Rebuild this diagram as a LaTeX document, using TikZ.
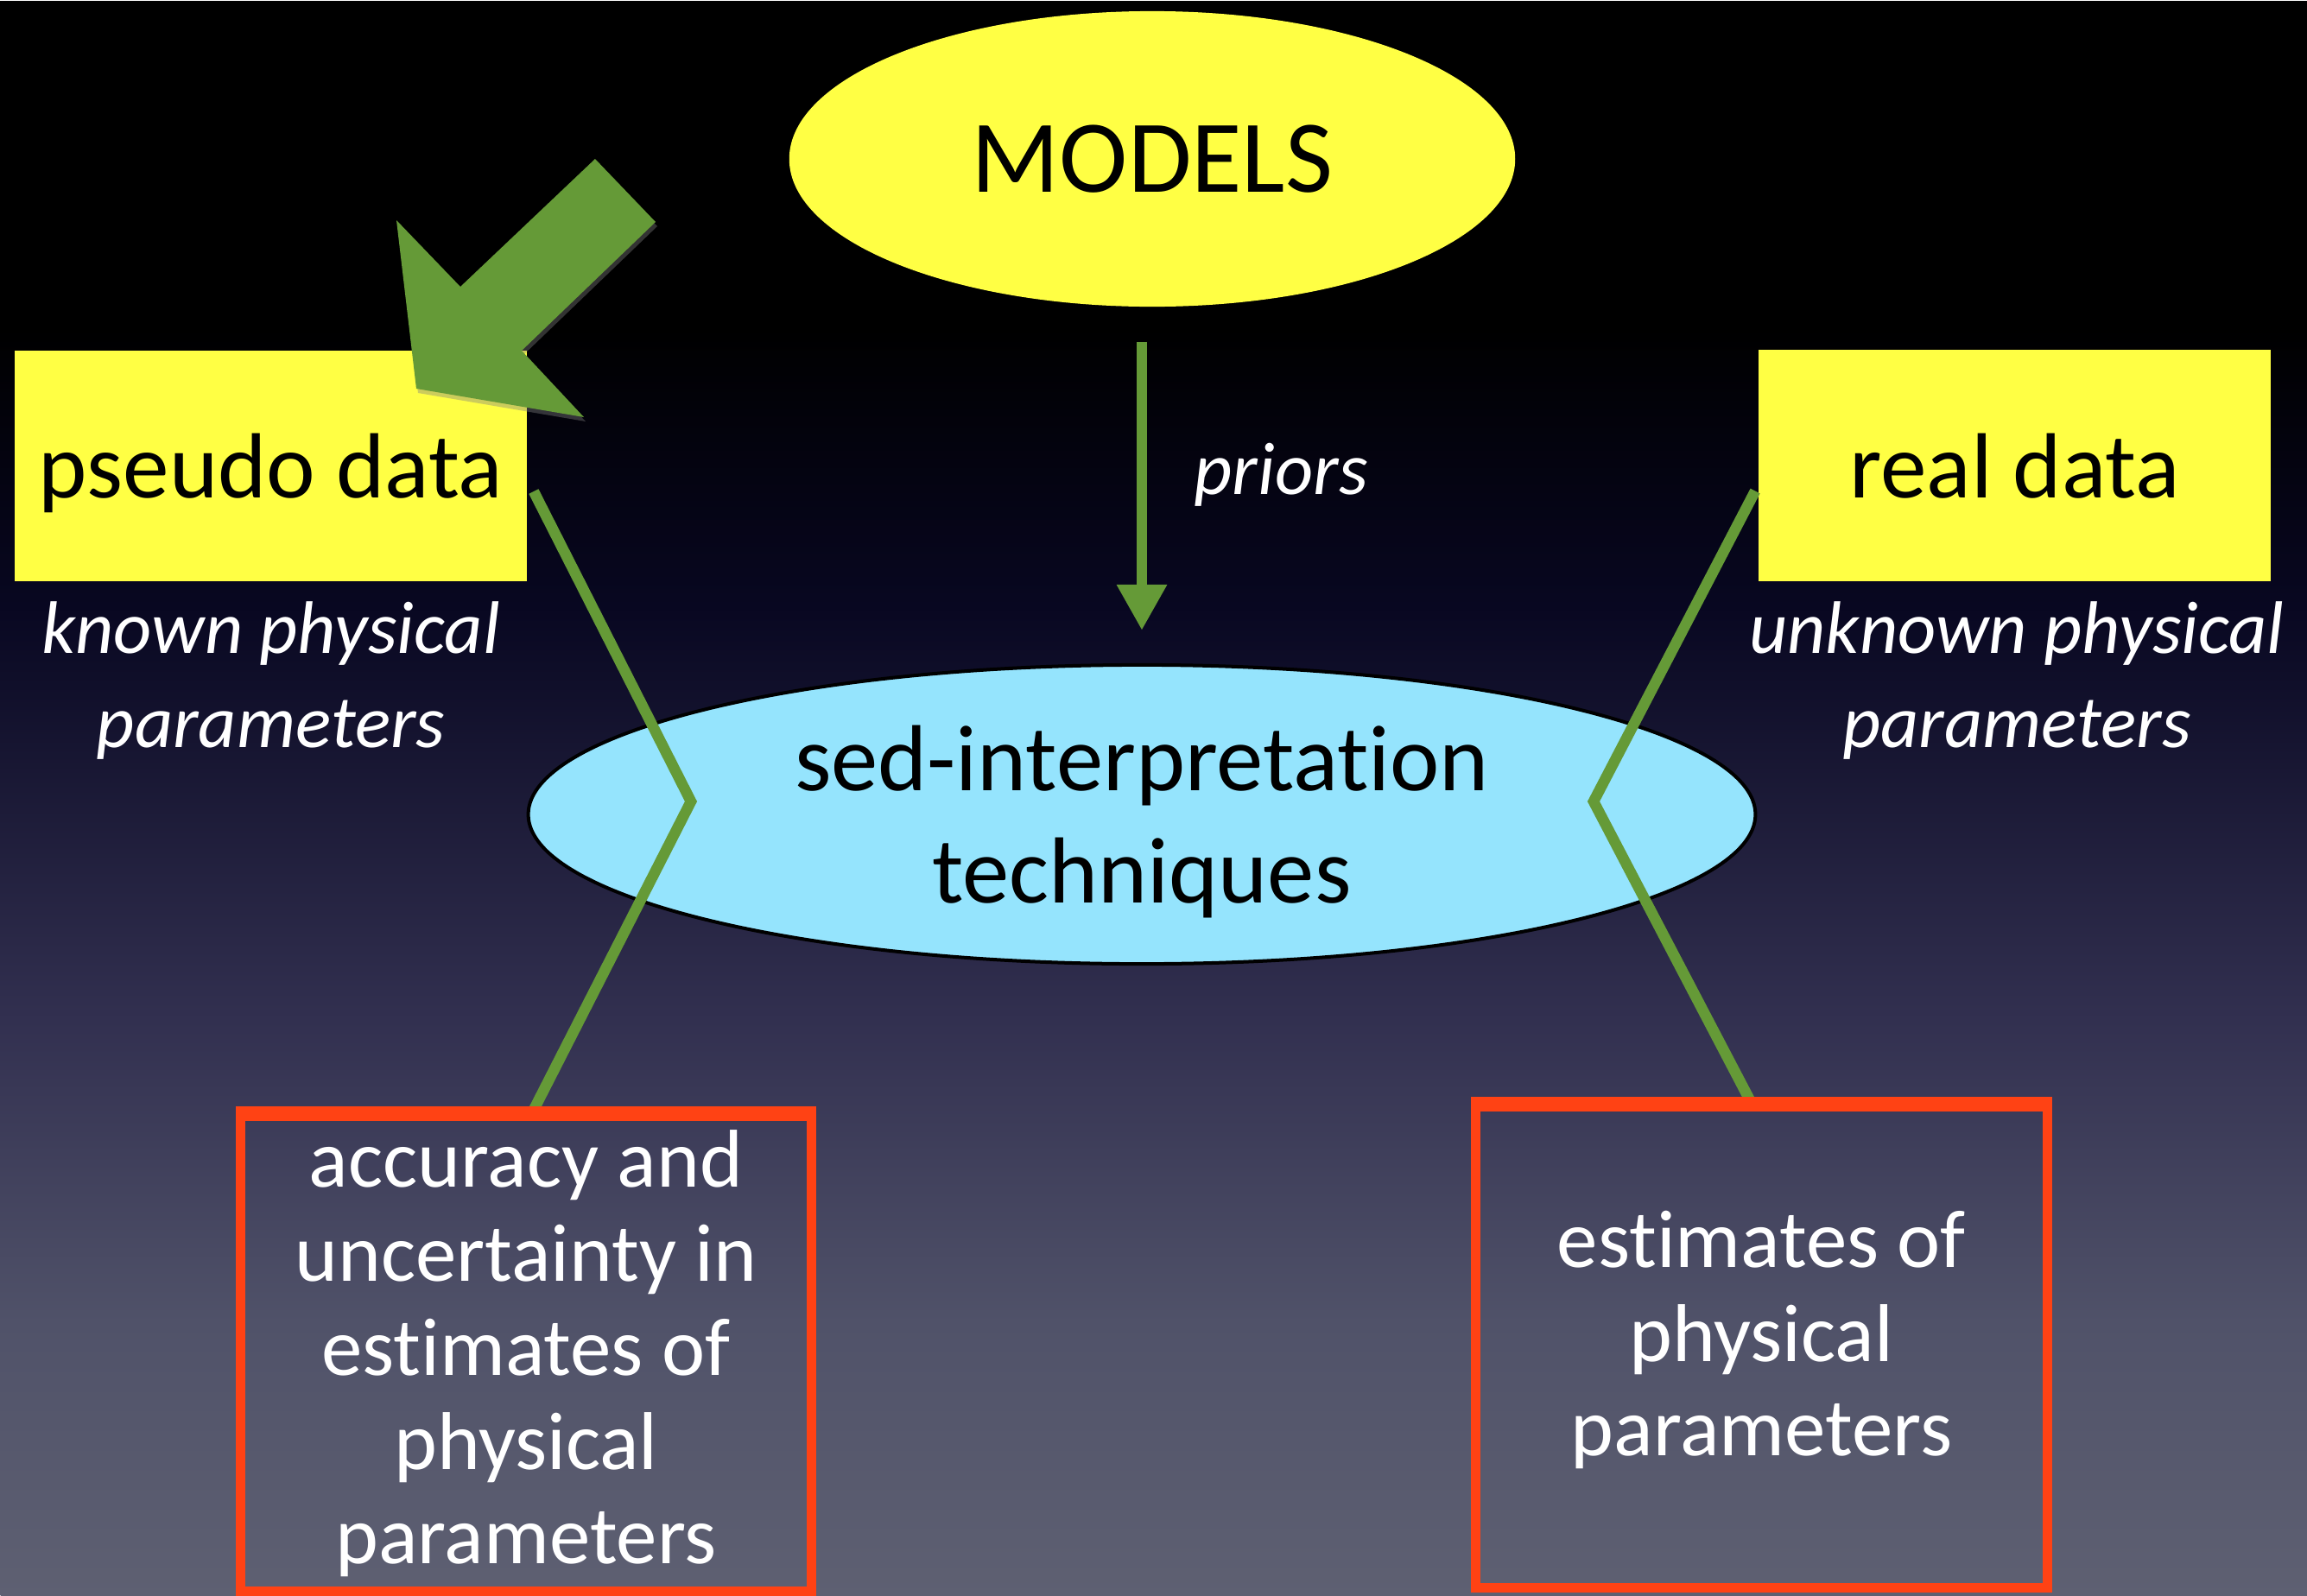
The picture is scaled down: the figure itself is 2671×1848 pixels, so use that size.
\documentclass[tikz,border=0pt]{standalone}
\usepackage{fontspec}
\setmainfont{Carlito}[Ligatures=NoCommon]
\usetikzlibrary{shapes.geometric, arrows.meta, shadows}

\definecolor{slideyellow}{RGB}{255,255,68}
\definecolor{slidecyan}{RGB}{149,228,253}
\definecolor{slidegreen}{RGB}{101,154,55}
\definecolor{slidered}{RGB}{255,66,20}
\definecolor{bgB}{RGB}{8,7,33}
\definecolor{bgC}{RGB}{50,48,80}
\definecolor{bgD}{RGB}{80,82,105}
\definecolor{bgE}{RGB}{94,96,114}

% slide background: black at the top, slate grey at the bottom
\pgfdeclareverticalshading{slidebg}{26.71cm}{color(0cm)=(bgE); color(3.18cm)=(bgD); color(6.68cm)=(bgC); color(11.48cm)=(bgB); color(14.68cm)=(black); color(18.48cm)=(black)}

\tikzset{
  databox/.style={rectangle, fill=slideyellow, inner sep=0pt,
    minimum width=5.93cm, minimum height=2.67cm, text depth=0pt,
    font=\fontsize{30.5}{36}\selectfont},
  modelshape/.style={ellipse, fill=slideyellow, inner sep=0pt,
    minimum width=8.40cm, minimum height=3.42cm,
    font=\fontsize{34}{40}\selectfont},
  techshape/.style={ellipse, draw=black, line width=0.04cm, fill=slidecyan,
    inner sep=0pt, minimum width=14.2cm, minimum height=3.46cm,
    align=center, text depth=0pt, font=\fontsize{30.9}{37}\selectfont},
  resultbox/.style={rectangle, draw=slidered, line width=0.11cm, inner sep=0pt,
    align=center, text=white, font=\fontsize{27}{31}\selectfont},
  paramlabel/.style={inner sep=0pt, align=center, text=white,
    font=\itshape\fontsize{24.5}{31}\selectfont},
  link/.style={draw=slidegreen, line width=0.125cm},
}

\begin{document}
\begin{tikzpicture}[x=0.01cm, y=-0.01cm]
\useasboundingbox (0,0) rectangle (2671,1848);
\node[inner sep=0pt, anchor=north west] (bg) at (0,0) {\pgfuseshading{slidebg}};

% sources and the central step
\node[modelshape] (models) at (1334,184) {MODELS};
\node[techshape] (sed) at (1322,943) {sed-interpretation\\techniques};
\node[databox] (pseudo) at (313.5,539.5) {pseudo data};
\node[databox] (real) at (2332.5,539) {real data};

\node[paramlabel] (known) at (313.5,788) {known physical\\parameters};
\node[paramlabel] (unknown) at (2335,788) {unknown physical\\parameters};

% priors flow from the models into the techniques
\draw[slidegreen, line width=0.126cm, -{Triangle[length=0.53cm,width=0.55cm]},
      shorten <=0.40cm, shorten >=0.38cm] (models.south -| sed.north) -- (sed.north);
\node[paramlabel, anchor=base west] (priors) at (1382,572) {priors};

% outcomes
\node[resultbox, minimum width=6.61cm, minimum height=5.50cm] (acc) at (609,1567.5)
  {accuracy and\\uncertainty in\\estimates of\\physical\\parameters};
\node[resultbox, minimum width=6.62cm, minimum height=5.57cm, text depth=0.32cm] (est) at (2039.5,1560)
  {estimates of\\physical\\parameters};

% kinked links through the techniques ellipse
\coordinate (lkink) at (800,928);
\coordinate (rkink) at (1845,928);
\draw[link] ([xshift=0.07cm, yshift=-0.295cm]pseudo.east) -- (lkink) -- ([xshift=0.08cm]acc.north);
\draw[link] ([xshift=-0.03cm, yshift=-0.295cm]real.west) -- (rkink) -- ([xshift=-0.125cm]est.north);
\draw[slidered, line width=0.11cm] (acc.north west) -- (acc.north east);
\draw[slidered, line width=0.11cm] (est.north west) -- (est.north east);

% block arrow pointing at the pseudo data
\fill[slidegreen, drop shadow={shadow xshift=0.02cm, shadow yshift=-0.05cm, opacity=0.4}]
  (689,184) -- (759,257) -- (604,406) -- (676,483) -- (482,450) -- (459,255) -- (533,332) -- cycle;
\end{tikzpicture}
\end{document}
